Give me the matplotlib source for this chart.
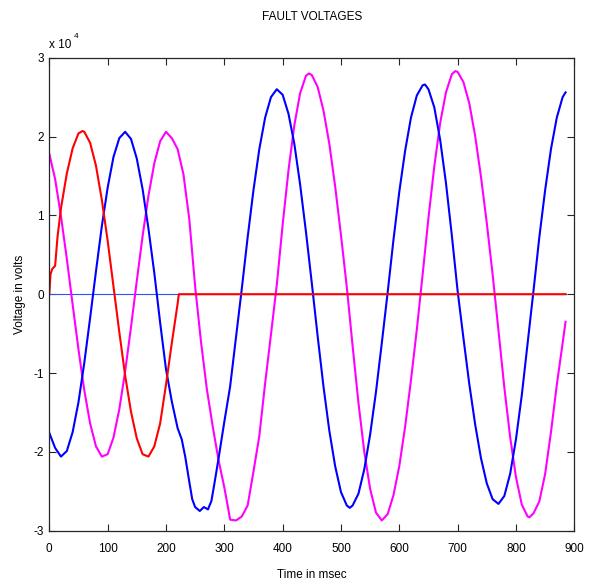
import matplotlib
matplotlib.use("Agg")
import matplotlib.pyplot as plt

plt.rcParams['font.family'] = ['Liberation Sans', 'DejaVu Sans']
plt.rcParams['axes.unicode_minus'] = False

# ---- data (time in msec, voltage in units of 10^4 volts) ----
blue_t = [0, 10, 20, 30, 40, 50, 60, 70, 80, 90,
          100, 110, 120, 130, 140, 150, 160, 170, 180, 190,
          200, 210, 220, 227, 233, 240, 245, 250, 258, 265,
          272, 278, 284, 290, 300, 310, 320, 330, 340, 350,
          360, 370, 380, 390, 400, 410, 420, 430, 440, 450,
          460, 470, 480, 490, 500, 510, 515, 520, 530, 540,
          550, 560, 570, 580, 590, 600, 610, 620, 630, 640,
          644, 650, 660, 670, 680, 690, 700, 710, 720, 730,
          740, 750, 760, 770, 780, 790, 800, 810, 820, 830,
          840, 850, 860, 870, 880, 885]
blue_v = [-1.76, -1.95, -2.06, -1.99, -1.75, -1.37, -0.87, -0.30, 0.29, 0.86,
          1.35, 1.74, 1.98, 2.06, 1.97, 1.72, 1.33, 0.83, 0.27, -0.36,
          -0.95, -1.36, -1.70, -1.84, -2.06, -2.38, -2.60, -2.70, -2.75, -2.70,
          -2.73, -2.62, -2.36, -2.09, -1.62, -1.17, -0.55, 0.07, 0.72, 1.32,
          1.84, 2.24, 2.50, 2.60, 2.53, 2.29, 1.91, 1.39, 0.79, 0.14,
          -0.53, -1.17, -1.73, -2.18, -2.51, -2.68, -2.71, -2.68, -2.53, -2.22,
          -1.78, -1.24, -0.62, 0.02, 0.69, 1.30, 1.82, 2.24, 2.52, 2.65,
          2.66, 2.60, 2.37, 1.96, 1.41, 0.75, 0.04, -0.56, -1.14, -1.65,
          -2.08, -2.40, -2.60, -2.66, -2.56, -2.28, -1.84, -1.28, -0.62, 0.04,
          0.72, 1.32, 1.84, 2.24, 2.50, 2.56]

magenta_t = [0, 10, 20, 30, 40, 50, 60, 70, 80, 90,
             100, 110, 120, 130, 140, 150, 160, 170, 180, 190,
             200, 210, 220, 230, 240, 250, 260, 270, 280, 290,
             300, 305, 310, 320, 330, 340, 350, 360, 370, 380,
             390, 400, 410, 420, 430, 440, 445, 450, 460, 470,
             480, 490, 500, 510, 520, 530, 540, 550, 560, 570,
             580, 590, 600, 610, 620, 630, 640, 650, 660, 670,
             680, 690, 696, 700, 710, 720, 730, 740, 750, 760,
             770, 780, 790, 800, 810, 820, 823, 830, 840, 850,
             860, 870, 880, 885]
magenta_v = [1.78, 1.46, 0.99, 0.45, -0.13, -0.70, -1.22, -1.64, -1.93, -2.06,
             -2.03, -1.82, -1.46, -0.98, -0.42, 0.17, 0.74, 1.25, 1.66, 1.94,
             2.06, 1.98, 1.84, 1.52, 0.95, 0.10, -0.60, -1.20, -1.67, -2.10,
             -2.45, -2.65, -2.86, -2.87, -2.82, -2.68, -2.25, -1.80, -1.13, -0.51,
             0.12, 0.88, 1.57, 2.14, 2.55, 2.77, 2.80, 2.78, 2.63, 2.33,
             1.91, 1.37, 0.75, 0.09, -0.66, -1.38, -2.00, -2.47, -2.77, -2.87,
             -2.79, -2.55, -2.18, -1.68, -1.09, -0.45, 0.25, 0.97, 1.62, 2.17,
             2.56, 2.79, 2.83, 2.82, 2.69, 2.42, 2.01, 1.49, 0.90, 0.25,
             -0.46, -1.18, -1.81, -2.32, -2.67, -2.82, -2.83, -2.78, -2.63, -2.28,
             -1.75, -1.15, -0.62, -0.35]

red_t = [0, 2, 5, 10, 14, 20, 30, 40, 50, 57, 60, 70, 80, 90, 100, 110, 120, 130,
         140, 150, 160, 170, 180, 190, 200, 210, 220, 222, 885]
red_v = [0, 0.25, 0.32, 0.36, 0.72, 1.09, 1.53, 1.85, 2.04, 2.07, 2.06, 1.92, 1.63,
         1.20, 0.68, 0.10, -0.48, -1.03, -1.49, -1.83, -2.03, -2.06, -1.93, -1.64,
         -1.15, -0.62, -0.12, 0, 0]

zero_t = [0, 885]
zero_v = [0, 0]

x_ticks = list(range(0, 901, 100))
y_ticks = [-3, -2, -1, 0, 1, 2, 3]

# ---- figure ----
W, H = 597, 583
fig = plt.figure(figsize=(W / 100, H / 100), dpi=100)
ax = fig.add_axes([49.3 / W, 1 - 530.7 / H, (574.3 - 49.3) / W, (530.7 - 57.7) / H])

ax.plot(zero_t, zero_v, color='#3050ff', lw=0.8)
ax.plot(magenta_t, magenta_v, color='#ff00ff', lw=1.5)
ax.plot(blue_t, blue_v, color='#0000ff', lw=1.5)
ax.plot(red_t, red_v, color='#ff0000', lw=1.5)

ax.set_xlim(0, 900)
ax.set_ylim(-3, 3)
ax.set_xticks(x_ticks)
ax.set_yticks(y_ticks)
ax.set_xticklabels([str(v) for v in x_ticks])
ax.set_yticklabels([str(v) for v in y_ticks])

fs = 8.5
ax.tick_params(axis='both', direction='in', length=5, width=0.8, colors='#262626',
               labelcolor='black', labelsize=fs, top=True, right=True)
ax.tick_params(axis='x', pad=9)
ax.tick_params(axis='y', pad=4)
for s in ax.spines.values():
    s.set_linewidth(0.9)
    s.set_color('#262626')

fig.text(311.8 / W, 1 - 17 / H, 'FAULT VOLTAGES', ha='center', va='center', fontsize=fs)
fig.text(311.8 / W, 1 - 575 / H, 'Time in msec', ha='center', va='center', fontsize=fs)
fig.text(20 / W, 1 - 294 / H, 'Voltage in volts', ha='center', va='center',
         rotation=90, fontsize=fs)
fig.text(49 / W, 1 - 45 / H, 'x 10', ha='left', va='center', fontsize=fs)
fig.text(74 / W, 1 - 37 / H, '4', ha='left', va='center', fontsize=fs * 0.7)

fig.savefig('out.png', dpi=100)
